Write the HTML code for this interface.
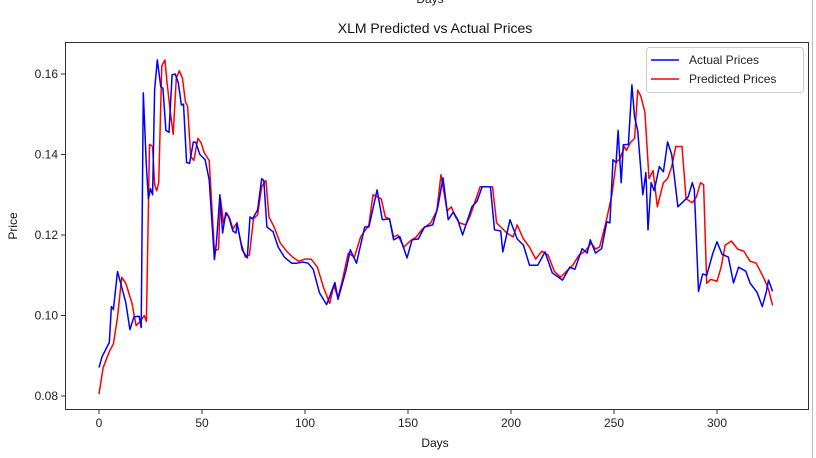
<!DOCTYPE html>
<html><head><meta charset="utf-8"><style>
html,body{margin:0;padding:0;background:#fff;width:816px;height:458px;overflow:hidden}
svg{display:block;font-family:"Liberation Sans","DejaVu Sans",sans-serif}
</style></head><body>
<svg id="chart" width="816" height="458" xmlns="http://www.w3.org/2000/svg">
<text x="430" y="3" font-size="12" text-anchor="middle" fill="#222">Days</text>
<text x="435" y="33" font-size="14" text-anchor="middle" fill="#111">XLM Predicted vs Actual Prices</text>
<text x="435" y="447" font-size="12" text-anchor="middle" fill="#111">Days</text>
<text x="17" y="226" font-size="12" text-anchor="middle" fill="#111" transform="rotate(-90 17 226)">Price</text>
<g id="axes"></g>
<g id="series"></g>
<rect x="65.5" y="42.5" width="743" height="367" fill="none" stroke="#333" stroke-width="1"/>
<line x1="812.5" y1="0" x2="812.5" y2="458" stroke="#bbb"/>
<g>
<rect x="646.5" y="47.5" width="157" height="45" rx="3" fill="#fff" stroke="#ccc"/>
<g><line x1="651" y1="60" x2="679" y2="60" stroke="#0000ff" stroke-width="1.5"/><text x="689" y="64" font-size="12" fill="#222">Actual Prices</text></g>
<g><line x1="651" y1="79" x2="679" y2="79" stroke="#ff0000" stroke-width="1.5"/><text x="689" y="83" font-size="12" fill="#222">Predicted Prices</text></g>
</g>
</svg>
<script>
const xTicks=[0,50,100,150,200,250,300];
const yTicks=[0.08,0.10,0.12,0.14,0.16];
const yTickLabels=["0.08","0.10","0.12","0.14","0.16"];
const actualDays=[0,1.5,5,6,7,9,10,13,15,17,19.5,20.5,21.5,23,24,25,26,27,28.3,30,31,32.5,34,35.5,37,38.5,40,41,42.5,44,45.8,47,49,51.5,53.5,56,57,58.7,60,61.5,63,65,66.5,67,69.5,72,73.3,74.5,77,79,80,81.5,84.5,87,90,93.5,96,99,101.5,104,107,110.5,114.5,116,120,122,125,129,131,135,137.5,141,143,146,149.5,152,155,158,162,164.5,167,169.5,172,174,176.5,181,183.5,186,190,192,195,196,199.5,203,206,209,213,216.5,220,225,228.5,231,234.5,237,238.5,241,244,246.5,248,249.5,251,252,253.5,254.5,257,258.7,260,261.5,264,265.5,266.5,268,269.5,272,274,276,278,281,283,286,288,289,291,293,295,298,300,302.5,305.5,308,310.5,314,316,319.5,322,324,325,327];
const actualVals=[0.0871,0.0898,0.0933,0.1022,0.1015,0.1109,0.109,0.1032,0.0965,0.0997,0.0998,0.097,0.1553,0.137,0.129,0.1315,0.130,0.156,0.1635,0.1568,0.1565,0.146,0.1455,0.1598,0.160,0.1578,0.1523,0.1525,0.138,0.1378,0.1431,0.143,0.140,0.1387,0.1337,0.1139,0.118,0.130,0.1205,0.1255,0.1245,0.121,0.1205,0.123,0.1163,0.1143,0.1245,0.124,0.1262,0.134,0.1335,0.122,0.1208,0.117,0.1145,0.113,0.113,0.1133,0.113,0.1115,0.1057,0.1027,0.1082,0.104,0.1114,0.1163,0.113,0.122,0.122,0.1312,0.1238,0.124,0.1188,0.1196,0.1143,0.1188,0.119,0.122,0.1225,0.127,0.1342,0.1238,0.1257,0.124,0.120,0.127,0.1284,0.132,0.132,0.1213,0.121,0.1158,0.1238,0.119,0.1175,0.1125,0.1125,0.1158,0.1106,0.1088,0.112,0.1115,0.1166,0.1155,0.1188,0.1155,0.1166,0.1233,0.123,0.1387,0.138,0.146,0.133,0.1424,0.1425,0.1573,0.1493,0.146,0.130,0.1355,0.1213,0.133,0.131,0.137,0.1357,0.1431,0.140,0.127,0.128,0.1295,0.133,0.1313,0.106,0.1103,0.110,0.1155,0.1183,0.1152,0.1145,0.1081,0.112,0.111,0.1081,0.1057,0.1022,0.106,0.1088,0.106];
const predDays=[0,2,5,7,9,11,13,16,18,20,22,23,24.5,26,27,28,29,30.5,32,33,34.5,36,37.5,39,40.5,42,43,44.5,46,48,49.5,51,53.5,56,58,59,60.5,62,63.5,65,67,69,71,73,75,77,79,81,82.5,85,88,91,94,97,100,103,106,109,112,114,116,118,121,124,127,131,133,137,139,141,143,145,148,151,154,157,161,164,166,169,171,173,175,178,180,183,185,188,191,193,196,198,201,203,206,209,212,215,218,221,224,227,230,233,236,239,241,243,246,249,251,253,255,256,258,260,261.5,263,265,267,269,271,274,276,278,280,283,285,288,290,292,293.5,295,297,300,302,304,307,310,313,316,319,321,323,325,327];
const predVals=[0.0805,0.0870,0.0910,0.0930,0.0995,0.1095,0.1080,0.1030,0.0975,0.0985,0.1000,0.0985,0.1425,0.1420,0.1325,0.1310,0.1330,0.1620,0.1635,0.1580,0.1510,0.1450,0.1590,0.1608,0.1590,0.1530,0.1520,0.1395,0.1385,0.1440,0.1430,0.1405,0.1385,0.1160,0.1165,0.1290,0.1230,0.1255,0.1240,0.1215,0.1230,0.1180,0.1145,0.1150,0.1240,0.1250,0.1320,0.1335,0.1245,0.1220,0.1180,0.1160,0.1145,0.1135,0.1140,0.1140,0.1120,0.1070,0.1030,0.1075,0.1045,0.1085,0.1155,0.1145,0.1195,0.1225,0.1300,0.1290,0.1245,0.1240,0.1195,0.1200,0.1170,0.1185,0.1195,0.1215,0.1230,0.1260,0.1350,0.1260,0.1270,0.1245,0.1230,0.1225,0.1245,0.1290,0.1320,0.1320,0.1320,0.1230,0.1215,0.1205,0.1195,0.1225,0.1190,0.1170,0.1140,0.1160,0.1150,0.1110,0.1095,0.1110,0.1125,0.1150,0.1160,0.1180,0.1165,0.1170,0.1230,0.1300,0.1380,0.1390,0.1420,0.1410,0.1430,0.1440,0.1560,0.1545,0.1505,0.1340,0.1360,0.1270,0.1330,0.1340,0.1370,0.1420,0.1420,0.1290,0.1280,0.1295,0.1330,0.1325,0.1080,0.1090,0.1085,0.1120,0.1175,0.1185,0.1165,0.1160,0.1135,0.1130,0.1110,0.1090,0.1065,0.1025,0.1050,0.1065,0.1095];
const X0=99,XS=2.06,Y0=0.16,YP=74,YS=4025;
function sx(d){return X0+d*XS;}
function sy(v){return YP+(Y0-v)*YS;}
const NS="http://www.w3.org/2000/svg";
const axes=document.getElementById('axes');
function mk(tag,attrs,parent){const e=document.createElementNS(NS,tag);for(const k in attrs)e.setAttribute(k,attrs[k]);parent.appendChild(e);return e;}
xTicks.forEach(t=>{
  const g=mk('g',{},axes);
  
  
  mk('line',{x1:sx(t),x2:sx(t),y1:409.5,y2:414,stroke:'#333'},g);
  const tx=mk('text',{x:sx(t),y:427,'font-size':12,'text-anchor':'middle',fill:'#222'},g);tx.textContent=String(t);
});
yTicks.forEach((t,i)=>{
  const g=mk('g',{},axes);
  
  
  mk('line',{x1:61,x2:65.5,y1:sy(t),y2:sy(t),stroke:'#333'},g);
  const tx=mk('text',{x:58,y:sy(t)+4,'font-size':12,'text-anchor':'end',fill:'#222'},g);tx.textContent=yTickLabels[i];
});
const ser=document.getElementById('series');
function line(days,vals,color,name){
  const p=days.map((d,i)=>(i?'L':'M')+sx(d).toFixed(1)+' '+sy(vals[i]).toFixed(1)).join(' ');
  const el=mk('path',{d:p,fill:'none',stroke:color,'stroke-width':1.5,'stroke-linejoin':'round'},ser);
  
  
}
line(predDays,predVals,'#ff0000','predicted-prices-line');
line(actualDays,actualVals,'#0000ff','actual-prices-line');
</script>
</body></html>
